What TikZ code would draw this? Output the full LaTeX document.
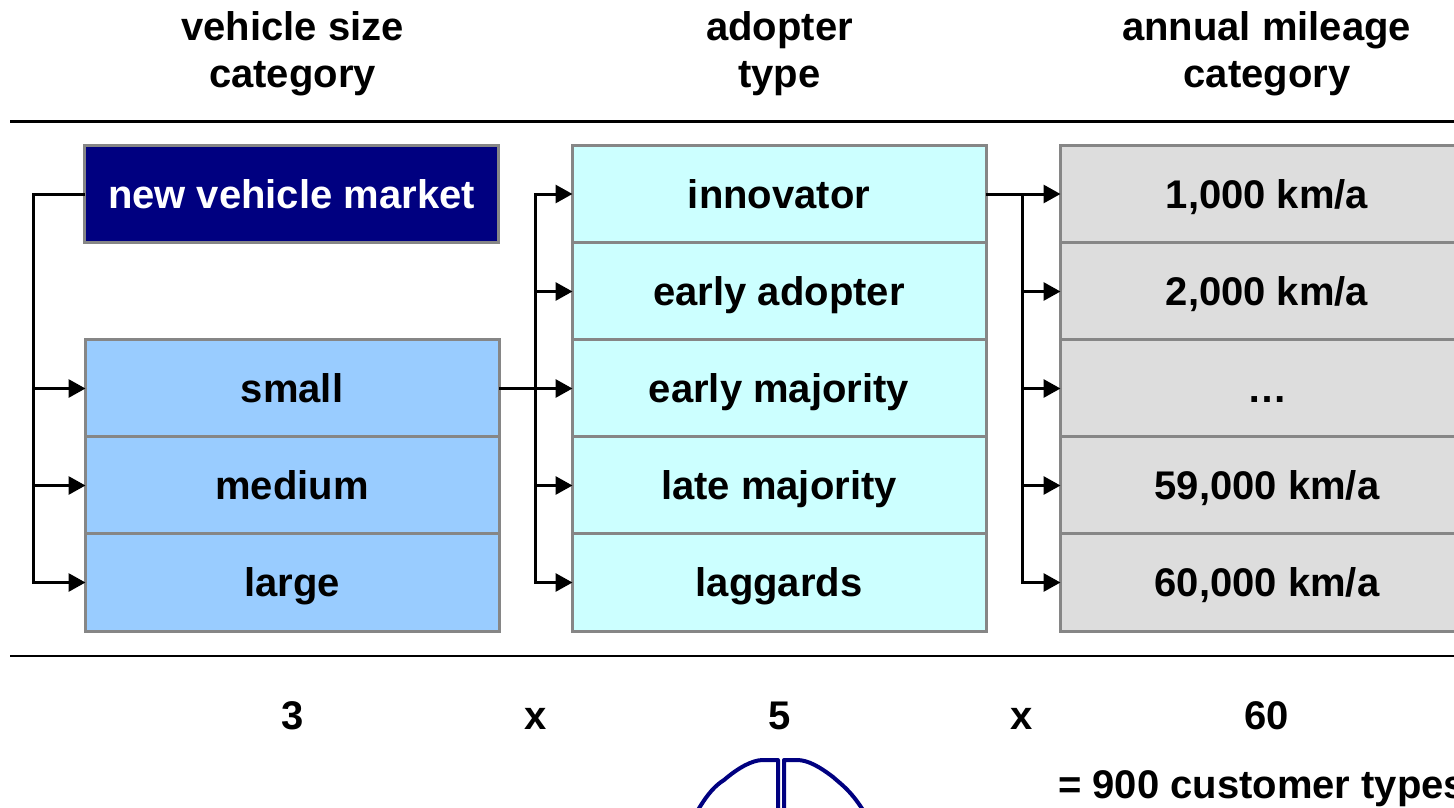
\documentclass[tikz,border=0pt]{standalone}
\usepackage{fontspec}
\setmainfont{Liberation Sans}
\usetikzlibrary{arrows.meta}
\definecolor{navybox}{RGB}{0,0,128}
\definecolor{bluebox}{RGB}{153,204,255}
\definecolor{cyanbox}{RGB}{204,255,255}
\definecolor{greybox}{RGB}{221,221,221}
\definecolor{edgegrey}{RGB}{134,134,134}
\tikzset{
  txt/.style={font=\fontsize{40}{40}\selectfont\bfseries,text=black,inner sep=0pt},
  cell/.style={draw=edgegrey,line width=3pt,minimum width=414pt,minimum height=97.2pt,inner sep=0pt,outer sep=0pt,
    font=\fontsize{40}{40}\selectfont\bfseries,text height=30pt,text depth=2pt,anchor=center},
  blue cell/.style={cell,fill=bluebox},
  cyan cell/.style={cell,fill=cyanbox},
  grey cell/.style={cell,fill=greybox},
  navy cell/.style={cell,fill=navybox,text=white},
  rule/.style={line width=2.8pt,black},
  link/.style={line width=3pt,black},
  arr/.style={link,-{Triangle[length=17pt,width=18pt]},shorten >=-0.5pt},
  glyph/.style={line width=4pt,draw=navybox,line join=round},
}
\begin{document}
\begin{tikzpicture}[x=1pt,y=-1pt]
\useasboundingbox (0,0) rectangle (1454,808);
\clip (0,0) rectangle (1454,808);
% headers
\node[txt,anchor=base] (h1a) at (292.5,41) {vehicle size};
\node[txt,anchor=base] (h1b) at (292.5,88) {category};
\node[txt,anchor=base] (h2a) at (779.5,41) {adopter};
\node[txt,anchor=base] (h2b) at (779.5,88) {type};
\node[txt,anchor=base] (h3a) at (1266.5,41) {annual mileage};
\node[txt,anchor=base] (h3b) at (1267,88) {category};
% rules
\coordinate (r1a) at (10,121.5);
\coordinate (r1b) at (1454,121.5);
\coordinate (r2a) at (10,656);
\coordinate (r2b) at (1454,656);
\draw[rule] (r1a) -- (r1b);
\draw[rule] (r2a) -- (r2b);
% column 1
\node[navy cell] (market) at (291.5,194) {new vehicle market};
\node[blue cell] (small) at (292,388.5) {small};
\node[blue cell] (medium) at (292,485.5) {medium};
\node[blue cell] (large) at (292,582.5) {large};
% column 2
\node[cyan cell] (inn) at (779,194) {innovator};
\node[cyan cell] (ead) at (779,291.5) {early adopter};
\node[cyan cell] (ema) at (779,388.5) {early majority};
\node[cyan cell] (lma) at (779,485.5) {late majority};
\node[cyan cell] (lag) at (779,582.5) {laggards};
% column 3
\node[grey cell] (k1) at (1267,194) {1,000 km/a};
\node[grey cell] (k2) at (1267,291.5) {2,000 km/a};
\node[grey cell] (kd) at (1267,388.5) {…};
\node[grey cell] (k59) at (1267,485.5) {59,000 km/a};
\node[grey cell] (k60) at (1267,582.5) {60,000 km/a};
% connectors column 1
\coordinate (b1) at (33,194);
\draw[link,line join=miter] (market.west) -- (b1) -- (b1|-small.west);
\draw[arr] (b1|-small.west) -- (small.west);
\draw[arr] (b1|-medium.west) -- (medium.west);
\draw[arr] (b1|-small.west) |- (large.west);
% connectors column 2
\coordinate (b2) at (535,194);
\draw[arr] (small.east) -- (ema.west);
\draw[arr] (b2|-ema.west) |- (inn.west);
\draw[arr] (b2|-ead.west) -- (ead.west);
\draw[arr] (b2|-lma.west) -- (lma.west);
\draw[arr] (b2|-ema.west) |- (lag.west);
% connectors column 3
\coordinate (b3) at (1022,194);
\draw[arr] (inn.east) -- (k1.west);
\draw[arr] (b3) |- (k60.west);
\draw[arr] (b3|-k2.west) -- (k2.west);
\draw[arr] (b3|-kd.west) -- (kd.west);
\draw[arr] (b3|-k59.west) -- (k59.west);
% counts
\node[txt,anchor=base] (c1) at (292.5,729) {3};
\node[txt,anchor=base] (x1) at (535.5,729) {x};
\node[txt,anchor=base] (c2) at (779.5,729) {5};
\node[txt,anchor=base] (x2) at (1022,729) {x};
\node[txt,anchor=base] (c3) at (1266.5,729) {60};
\node[txt,anchor=base west] (tot) at (1058,798) {= 900 customer types};
% symbol
\draw[glyph] (698,810) .. controls (708,793) and (716,785) .. (724,780) .. controls (738,768) and (752,760) .. (763,760) -- (778,760) -- (778,810);
\draw[glyph] (863,810) .. controls (850,790) and (842,785) .. (833,777) .. controls (820,767) and (808,760) .. (797,760) -- (784,760) -- (784,810);
\end{tikzpicture}
\end{document}
